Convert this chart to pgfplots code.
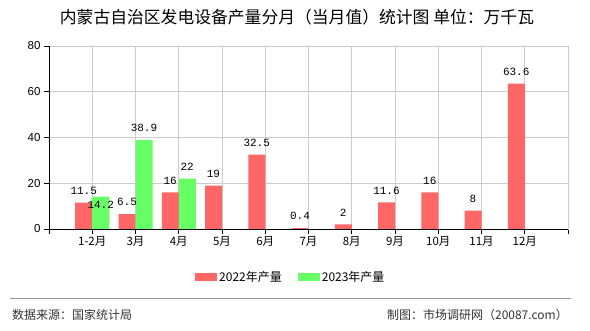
\documentclass[border=0pt]{standalone}
\usepackage{pgfplots}
\pgfplotsset{compat=1.18}
\usepackage{pgfplotstable}
\usepackage{fontspec}
\setmainfont{Liberation Sans}
\newfontfamily\cjk{Noto Sans CJK SC}
\newfontfamily\mono{Liberation Mono}
\definecolor{redbar}{HTML}{FF6666}
\definecolor{greenbar}{HTML}{66FF66}
\definecolor{gridc}{HTML}{CCCCCC}
\definecolor{foot}{HTML}{333333}

\pgfplotstableread{
x y s
1 11.5 12
2 6.5 12
3 16 12
4 19 12
5 32.5 12
6 0.4 12
7 2 12
8 11.6 12
9 16 12
10 8 12
11 63.6 12
}\dataA
\pgfplotstableread{
x y s
1 14.2 -8.5
2 38.9 12
3 22 12
}\dataB

\begin{document}
\begin{tikzpicture}[x=1pt,y=1pt]
\path[use as bounding box] (0,0) rectangle (590,330);
\node[font=\cjk\fontsize{16.8}{18}\selectfont, anchor=center] at (297,313) {内蒙古自治区发电设备产量分月（当月值）统计图 单位：万千瓦};
\begin{axis}[
  at={(49pt,101pt)}, anchor=south west,
  width=519pt, height=183pt, scale only axis,
  xmin=0, xmax=12, ymin=0, ymax=80,
  ybar, bar width=17pt,
  xtick={0,...,12},
  xticklabels={,1-2月,3月,4月,5月,6月,7月,8月,9月,10月,11月,12月,},
  ytick={0,20,40,60,80},
  xtick pos=bottom, ytick pos=left,
  tick align=outside, major tick length=5pt,
  tick style={black, line width=0.8pt},
  axis line style={draw=gridc},
  grid=major, grid style={draw=gridc, line width=0.8pt},
  /pgf/number format/assume math mode=true,
  x tick label style={font=\cjk\fontsize{11.5}{13}\selectfont, yshift=1pt},
  y tick label style={font=\fontsize{11.5}{13}\selectfont},
  legend style={at={(0.466,-0.262)}, anchor=center, draw=none, fill=none,
    legend columns=2, font=\cjk\fontsize{12}{14}\selectfont,
    /tikz/every even column/.append style={column sep=14pt},
    legend cell align=left},
  legend image code/.code={\path[#1, draw=none] (0pt,-4pt) rectangle (22pt,4pt);},
  nodes near coords,
  visualization depends on={\thisrow{s} \as \sh},
  nodes near coords style={font=\mono\fontsize{11}{12}\selectfont, anchor=center, yshift=\sh pt, black},
  point meta=explicit,
]
\addplot[fill=redbar, draw=none, bar shift=-8.5pt] table[x=x, y=y, meta=y] {\dataA};
\addplot[fill=greenbar, draw=none, bar shift=8.5pt] table[x=x, y=y, meta=y] {\dataB};
\legend{2022年产量, 2023年产量}
\draw[black, line width=0.8pt] (rel axis cs:0,0) -- (rel axis cs:1,0);
\draw[black, line width=0.8pt] (rel axis cs:0,0) -- (rel axis cs:0,1);
\end{axis}
\draw[draw=gray!85, line width=0.8pt] (10,32) -- (571,32);
\node[font=\cjk\fontsize{12}{14}\selectfont, text=foot, anchor=west, inner sep=0pt] at (12,15) {数据来源：国家统计局};
\node[font=\cjk\fontsize{12}{14}\selectfont, text=foot, anchor=east, inner sep=0pt] at (568,15) {制图：市场调研网（20087.com）};
\end{tikzpicture}
\end{document}
